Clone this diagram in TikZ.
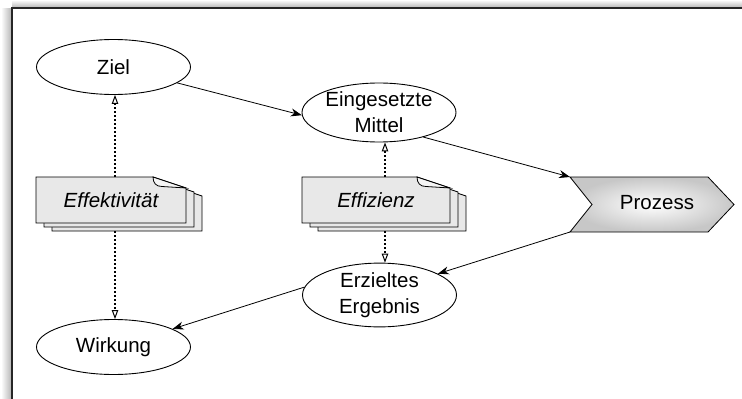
\documentclass[tikz,border=0pt]{standalone}
\usepackage{fontspec}
\setmainfont{Liberation Sans}
\usetikzlibrary{shapes.geometric,arrows.meta}
\newcommand\mydocpath[4]{(#1,#2) -- ({#1+#3-33},#2) -- ({#1+#3},{#2+11}) -- ({#1+#3},{#2+#4}) -- (#1,{#2+#4}) -- cycle}
\newcommand\mymultidoc[6]{%
  \filldraw[docfill] \mydocpath{#2+16}{#3+8}{#4}{#5};
  \filldraw[docfill] \mydocpath{#2+8}{#3+4}{#4}{#5};
  \filldraw[docfill] \mydocpath{#2}{#3}{#4}{#5};
  \filldraw[docfill,fill=black!4] ({#2+#4-33},#3) .. controls ({#2+#4-33},{#3+6}) and ({#2+#4-30},{#3+9.5}) .. ({#2+#4-24},{#3+9.5}) -- ({#2+#4},{#3+11}) -- cycle;
  \node[doctext,minimum width=#4pt,minimum height=#5pt,inner sep=0pt] (#1) at ({#2+#4/2},{#3+#5/2}) {#6};
}
\begin{document}
\begin{tikzpicture}[x=1pt,y=-1pt,
  ell/.style={ellipse,draw,line width=0.9pt,fill=white,minimum width=154pt,minimum height=55pt,inner sep=0pt,align=center,font=\fontsize{20.5}{26}\selectfont},
  flow/.style={line width=0.8pt,-{Stealth[length=11pt,width=8pt,inset=3.5pt]}},
  dotarrow/.style={line width=1.1pt,dash pattern=on 2pt off 2pt,-{Triangle[open,length=9pt,width=6.5pt,line width=1pt]}},
  docfill/.style={fill=black!9,draw,line width=0.8pt},
  doctext/.style={font=\fontsize{20.5}{26}\selectfont\itshape}
]
\useasboundingbox (0,0) rectangle (742,399);
% frame with shadow
\shade[left color=white,right color=black!30] (1,8) rectangle (12,399);
\shade[top color=white,bottom color=black!30] (12,0) rectangle (742,8);
\draw[line width=1.2pt,black!85] (12,399) -- (12,8) -- (742,8);

% ellipses
\node[ell] (Ziel) at (113.5,67) {Ziel};
\node[ell,minimum height=59pt] (Mittel) at (379,112.5) {Eingesetzte\\Mittel};
\node[ell,minimum height=60pt] (Erg) at (379.5,295) {Erzieltes\\Ergebnis};
\node[ell] (Wirk) at (113.5,347) {Wirkung};

% documents
\mymultidoc{EffK}{36}{177}{150}{46}{Effektivität}
\mymultidoc{EffZ}{302}{177}{148}{46}{Effizienz}

% process chevron
\coordinate (Ptl) at (570,177);
\coordinate (Pbl) at (570,232);
\shade[draw,line width=0.8pt,inner color=white,outer color=black!22]
  (Ptl) -- (708,177) -- (734,204.5) -- (708,232) -- (Pbl) -- (592,204.5) -- cycle;
\node[font=\fontsize{20.5}{26}\selectfont] (Proz) at (657,203) {Prozess};

% flow connectors
\draw[flow] (Ziel.-14) -- (Mittel.182);
\draw[flow] (Mittel.-29) -- (Ptl);
\draw[flow] (Pbl) -- (Erg.20);
\draw[flow] (Erg.174) -- (Wirk.17);

% dotted connectors
\draw[dotarrow] ([xshift=4pt]EffK.north) -- ([xshift=4pt]EffK.north |- Ziel.south);
\draw[dotarrow] ([shift={(4,8)}]EffK.south) -- ([xshift=4pt]EffK.south |- Wirk.north);
\draw[dotarrow] ([xshift=9pt]EffZ.north) -- ([xshift=9pt]EffZ.north |- Mittel.south);
\draw[dotarrow] ([shift={(9,8)}]EffZ.south) -- ([xshift=9pt]EffZ.south |- Erg.north);
\end{tikzpicture}
\end{document}
